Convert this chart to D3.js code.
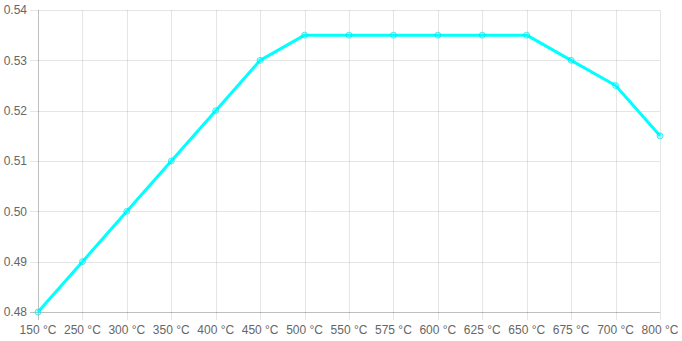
<!DOCTYPE html>
<html>
<head>
<meta charset="utf-8">
<script src="https://cdn.jsdelivr.net/npm/d3@7"></script>
<style>
  body { margin: 0; background: #fff; }
  text { font-family: "Liberation Sans", Arial, sans-serif; font-size: 12px; fill: #666; }
</style>
</head>
<body>
<script>
// chart data
var categories = ["150 °C", "250 °C", "300 °C", "350 °C", "400 °C", "450 °C", "500 °C", "550 °C",
                  "575 °C", "600 °C", "625 °C", "650 °C", "675 °C", "700 °C", "800 °C"];
var values = [0.48, 0.49, 0.50, 0.51, 0.52, 0.53, 0.535, 0.535, 0.535, 0.535, 0.535, 0.535, 0.53, 0.525, 0.515];
var yTicks = [0.48, 0.49, 0.50, 0.51, 0.52, 0.53, 0.54];

var width = 682, height = 341;
var plotLeft = 38, plotRight = 660, plotTop = 10, plotBottom = 312;

var svg = d3.select("body").append("svg")
    .attr("width", width)
    .attr("height", height);

var x = d3.scalePoint()
    .domain(categories)
    .range([plotLeft, plotRight]);

var y = d3.scaleLinear()
    .domain([0.48, 0.54])
    .range([plotBottom, plotTop]);

// horizontal grid
svg.append("g")
    .selectAll("line")
    .data(yTicks)
    .enter()
    .append("line")
    .attr("x1", plotLeft - 8)
    .attr("x2", plotRight)
    .attr("y1", function(d) { return Math.round(y(d)) + 0.5; })
    .attr("y2", function(d) { return Math.round(y(d)) + 0.5; })
    .style("stroke", function(d) { return d == 0.48 ? "rgba(0,0,0,0.25)" : "rgba(0,0,0,0.1)"; });

// vertical grid
svg.append("g")
    .selectAll("line")
    .data(categories)
    .enter()
    .append("line")
    .attr("x1", function(d) { return Math.round(x(d)) + 0.5; })
    .attr("x2", function(d) { return Math.round(x(d)) + 0.5; })
    .attr("y1", plotTop)
    .attr("y2", plotBottom + 8)
    .style("stroke", function(d, i) { return i == 0 ? "rgba(0,0,0,0.25)" : "rgba(0,0,0,0.1)"; });

// y labels
svg.append("g")
    .selectAll("text")
    .data(yTicks)
    .enter()
    .append("text")
    .attr("x", plotLeft - 11)
    .attr("y", function(d) { return y(d); })
    .attr("dy", "0.35em")
    .attr("text-anchor", "end")
    .text(function(d) { return d3.format(".2f")(d); });

// x labels
svg.append("g")
    .selectAll("text")
    .data(categories)
    .enter()
    .append("text")
    .attr("x", function(d) { return x(d); })
    .attr("y", plotBottom + 22)
    .attr("text-anchor", "middle")
    .text(function(d) { return d; });

var pts = categories.map(function(c, i) { return {c: c, v: values[i]}; });

var line = d3.line()
    .x(function(d) { return x(d.c); })
    .y(function(d) { return y(d.v); });

svg.append("path")
    .datum(pts)
    .attr("d", line)
    .style("fill", "none")
    .style("stroke", "#00ffff")
    .style("stroke-width", 3)
    .style("stroke-linejoin", "round");

svg.append("g")
    .selectAll("circle")
    .data(pts)
    .enter()
    .append("circle")
    .attr("cx", function(d) { return x(d.c); })
    .attr("cy", function(d) { return y(d.v); })
    .attr("r", 3)
    .style("fill", "rgba(0,255,255,0.3)")
    .style("stroke", "rgba(0,220,230,0.6)")
    .style("stroke-width", 1);
</script>
</body>
</html>
